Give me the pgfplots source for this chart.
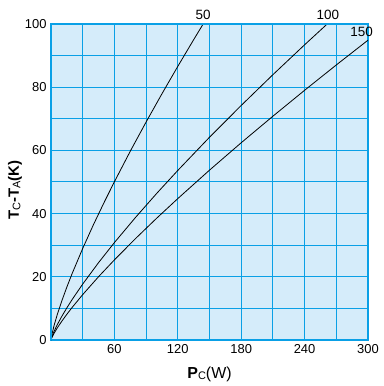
\documentclass[border=0pt]{standalone}
\usepackage{pgfplots}
\pgfplotsset{compat=1.18}
\usepackage{fontspec}
\setmainfont{Liberation Sans}
\definecolor{bgblue}{RGB}{213,236,250}
\definecolor{gridblue}{RGB}{10,160,230}
\begin{document}
\begin{tikzpicture}[x=1bp,y=1bp]
\begin{axis}[
  scale only axis,
  width=317bp, height=316bp,
  at={(0,0)}, anchor=south west,
  xmin=0, xmax=300, ymin=0, ymax=100,
  xtick={0,30,...,300},
  xticklabels={,,60,,120,,180,,240,,300},
  ytick={0,10,...,100},
  yticklabels={0,,20,,40,,60,,80,,100},
  major tick length=0,
  grid=major,
  major grid style={gridblue, line width=1bp},
  axis line style={gridblue, line width=1.2bp},
  axis background/.style={fill=bgblue},
  tick label style={font=\fontsize{13}{15}\selectfont},
  xticklabel style={yshift=-1bp},
  yticklabel style={xshift=-1bp},
  /pgf/number format/assume math mode=true,
  clip mode=individual,
]
\addplot[black, line width=0.8bp] coordinates {
(0,0) (1,1.97) (3,4.70) (6,8.12) (10,12.16) (15,16.75) (20,21.02) (30,28.97)
(40,36.37) (50,43.36) (60,50.07) (75,59.73) (90,68.98) (105,77.92)
(120,86.59) (135,95.03) (144,100)};
\addplot[black, line width=0.8bp] coordinates {
(0,0) (1,1.17) (3,2.81) (6,4.89) (10,7.35) (15,10.17) (20,12.80) (30,17.70)
(45,24.48) (60,30.83) (80,38.79) (100,46.38) (120,53.66) (150,64.16)
(180,74.22) (210,83.96) (240,93.42) (261.4,100)};
\addplot[black, line width=0.8bp] coordinates {
(0,0) (1,0.88) (3,2.17) (6,3.84) (10,5.83) (15,8.14) (20,10.30) (30,14.36)
(45,20.03) (60,25.35) (80,32.10) (100,38.54) (120,44.75) (150,53.75)
(180,62.42) (210,70.82) (240,79.02) (270,87.04) (300,94.88)};
\draw[gridblue, line width=2bp] (axis description cs:0,0) -- (axis description cs:0,1) -- (axis description cs:1,1);
\node[font=\fontsize{13.5}{15}\selectfont] at (axis cs:144,102.9) {50};
\node[font=\fontsize{13.5}{15}\selectfont] at (axis cs:262,102.9) {100};
\node[font=\fontsize{13.5}{15}\selectfont] at (axis cs:294,97.4) {150};
\node[font=\fontsize{16}{18}\selectfont] at (axis description cs:0.5,-0.108)
  {\textbf{P}{\fontsize{11}{12}\selectfont\raisebox{-1.5bp}{C}}(W)};
\node[font=\fontsize{15}{17}\selectfont\bfseries, rotate=90] at (axis description cs:-0.1136,0.4747)
  {T{\fontsize{11}{12}\selectfont\mdseries\raisebox{-1.5bp}{C}}-T{\fontsize{11}{12}\selectfont\mdseries\raisebox{-1.5bp}{A}}(K)};
\end{axis}
\pgfresetboundingbox
\useasboundingbox (-51bp,-46bp) rectangle (333bp,340bp);
\end{tikzpicture}
\end{document}
